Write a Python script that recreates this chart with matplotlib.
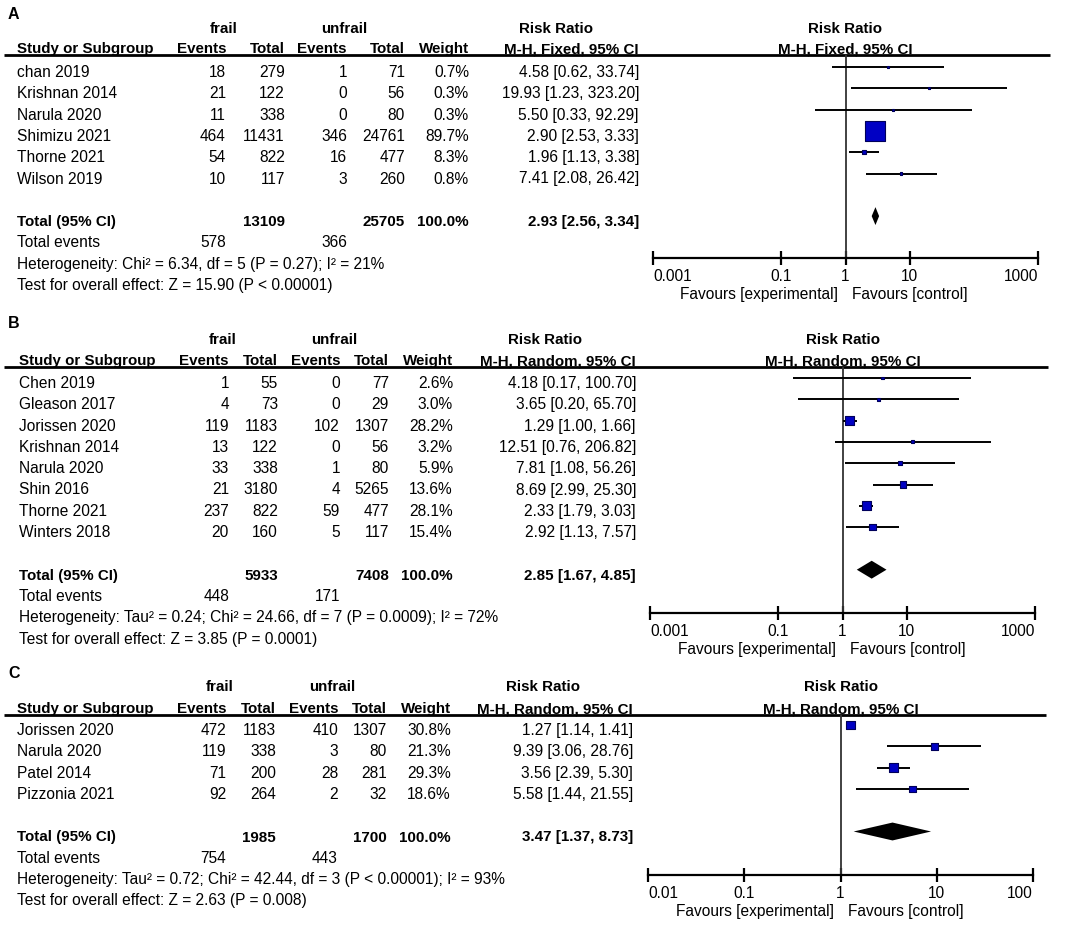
import matplotlib
matplotlib.use("Agg")
import matplotlib.pyplot as plt
import numpy as np

W, H = 1084, 926
plt.rcParams['font.family'] = ['Liberation Sans', 'DejaVu Sans']
plt.rcParams['font.size'] = 11.2
BOLD_SIZE = 10.9

# ---- panel A data ----
A_STUDY = ["chan 2019", "Krishnan 2014", "Narula 2020", "Shimizu 2021", "Thorne 2021", "Wilson 2019"]
A_FRAIL_EV = [18, 21, 11, 464, 54, 10]
A_FRAIL_N = [279, 122, 338, 11431, 822, 117]
A_UNFRAIL_EV = [1, 0, 0, 346, 16, 3]
A_UNFRAIL_N = [71, 56, 80, 24761, 477, 260]
A_WEIGHT = [0.7, 0.3, 0.3, 89.7, 8.3, 0.8]
A_RR = [4.58, 19.93, 5.50, 2.90, 1.96, 7.41]
A_LO = [0.62, 1.23, 0.33, 2.53, 1.13, 2.08]
A_HI = [33.74, 323.20, 92.29, 3.33, 3.38, 26.42]
A_TOTAL_N = [13109, 25705]
A_TOTAL_EV = [578, 366]
A_POOLED = [2.93, 2.56, 3.34]
A_HET = "Heterogeneity: Chi² = 6.34, df = 5 (P = 0.27); I² = 21%"
A_TEST = "Test for overall effect: Z = 15.90 (P < 0.00001)"
A_METHOD = "M-H, Fixed, 95% CI"
A_TICKS = [0.001, 0.1, 1, 10, 1000]
A_TICKLABELS = ["0.001", "0.1", "1", "10", "1000"]

# ---- panel B data ----
B_STUDY = ["Chen 2019", "Gleason 2017", "Jorissen 2020", "Krishnan 2014", "Narula 2020",
           "Shin 2016", "Thorne 2021", "Winters 2018"]
B_FRAIL_EV = [1, 4, 119, 13, 33, 21, 237, 20]
B_FRAIL_N = [55, 73, 1183, 122, 338, 3180, 822, 160]
B_UNFRAIL_EV = [0, 0, 102, 0, 1, 4, 59, 5]
B_UNFRAIL_N = [77, 29, 1307, 56, 80, 5265, 477, 117]
B_WEIGHT = [2.6, 3.0, 28.2, 3.2, 5.9, 13.6, 28.1, 15.4]
B_RR = [4.18, 3.65, 1.29, 12.51, 7.81, 8.69, 2.33, 2.92]
B_LO = [0.17, 0.20, 1.00, 0.76, 1.08, 2.99, 1.79, 1.13]
B_HI = [100.70, 65.70, 1.66, 206.82, 56.26, 25.30, 3.03, 7.57]
B_TOTAL_N = [5933, 7408]
B_TOTAL_EV = [448, 171]
B_POOLED = [2.85, 1.67, 4.85]
B_HET = "Heterogeneity: Tau² = 0.24; Chi² = 24.66, df = 7 (P = 0.0009); I² = 72%"
B_TEST = "Test for overall effect: Z = 3.85 (P = 0.0001)"
B_METHOD = "M-H, Random, 95% CI"
B_TICKS = [0.001, 0.1, 1, 10, 1000]
B_TICKLABELS = ["0.001", "0.1", "1", "10", "1000"]

# ---- panel C data ----
C_STUDY = ["Jorissen 2020", "Narula 2020", "Patel 2014", "Pizzonia 2021"]
C_FRAIL_EV = [472, 119, 71, 92]
C_FRAIL_N = [1183, 338, 200, 264]
C_UNFRAIL_EV = [410, 3, 28, 2]
C_UNFRAIL_N = [1307, 80, 281, 32]
C_WEIGHT = [30.8, 21.3, 29.3, 18.6]
C_RR = [1.27, 9.39, 3.56, 5.58]
C_LO = [1.14, 3.06, 2.39, 1.44]
C_HI = [1.41, 28.76, 5.30, 21.55]
C_TOTAL_N = [1985, 1700]
C_TOTAL_EV = [754, 443]
C_POOLED = [3.47, 1.37, 8.73]
C_HET = "Heterogeneity: Tau² = 0.72; Chi² = 42.44, df = 3 (P < 0.00001); I² = 93%"
C_TEST = "Test for overall effect: Z = 2.63 (P = 0.008)"
C_METHOD = "M-H, Random, 95% CI"
C_TICKS = [0.01, 0.1, 1, 10, 100]
C_TICKLABELS = ["0.01", "0.1", "1", "10", "100"]

# pixel layout of each panel
LAYOUT = {
    "A": dict(label_y=19, y0=67, line_y=55, axis_y=258, line_x1=1050,
              cols=[17, 226, 285, 347, 405, 469, 639], frail_cx=224, unfrail_cx=344, rr_cx=556,
              fx=(653, 1038), box_max=20, box_pow=0.68),
    "B": dict(label_y=328, y0=378, line_y=367, axis_y=613, line_x1=1048,
              cols=[19, 229, 278, 340, 389, 453, 636], frail_cx=223, unfrail_cx=334, rr_cx=545,
              fx=(650, 1035), box_max=9, box_pow=0.5),
    "C": dict(label_y=678, y0=725, line_y=715, axis_y=875, line_x1=1046,
              cols=[17, 226, 276, 338, 387, 451, 633], frail_cx=220, unfrail_cx=332, rr_cx=543,
              fx=(648, 1033), box_max=8.7, box_pow=0.6),
}
ROW = 21.3
BOX_FACE = "#0000c4"
BOX_EDGE = "#00005a"

fig = plt.figure(figsize=(W / 100, H / 100), dpi=100)
bg = fig.add_axes([0, 0, 1, 1])
bg.set_xlim(0, W)
bg.set_ylim(H, 0)
bg.axis("off")


def btext(x, y, s, **kw):
    bg.text(x, y, s, fontweight="bold", fontsize=BOLD_SIZE, va="baseline", **kw)


def draw_panel(name, study, ev1, n1, ev2, n2, weight, rr, lo, hi,
               total_n, total_ev, pooled, het, test, method, ticks, ticklabels):
    p = LAYOUT[name]
    c = p["cols"]
    y0 = p["y0"]
    n = len(study)
    base = lambda i: y0 + ROW * i + 10

    # headers
    bg.text(8, p["label_y"], name, fontweight="bold", fontsize=11.5, va="baseline")
    hy = y0 - 34
    btext(p["frail_cx"], hy, "frail", ha="center")
    btext(p["unfrail_cx"], hy, "unfrail", ha="center")
    btext(p["rr_cx"], hy, "Risk Ratio", ha="center")
    hy2 = p["line_y"] - 2
    btext(c[0], hy2, "Study or Subgroup")
    for x, s in zip(c[1:], ["Events", "Total", "Events", "Total", "Weight", method]):
        btext(x, hy2, s, ha="right")
    bg.plot([4, p["line_x1"]], [p["line_y"]] * 2, color="black", lw=2, solid_capstyle="butt")

    # study rows
    for i in range(n):
        y = base(i)
        bg.text(c[0], y, study[i], va="baseline")
        vals = [ev1[i], n1[i], ev2[i], n2[i], f"{weight[i]:.1f}%",
                f"{rr[i]:.2f} [{lo[i]:.2f}, {hi[i]:.2f}]"]
        for x, v in zip(c[1:], vals):
            bg.text(x, y, str(v), ha="right", va="baseline")

    # totals
    y = base(n + 1)
    btext(c[0], y, "Total (95% CI)")
    btext(c[2], y, str(total_n[0]), ha="right")
    btext(c[4], y, str(total_n[1]), ha="right")
    btext(c[5], y, "100.0%", ha="right")
    btext(c[6], y, f"{pooled[0]:.2f} [{pooled[1]:.2f}, {pooled[2]:.2f}]", ha="right")
    y = base(n + 2)
    bg.text(c[0], y, "Total events", va="baseline")
    bg.text(c[1], y, str(total_ev[0]), ha="right", va="baseline")
    bg.text(c[3], y, str(total_ev[1]), ha="right", va="baseline")
    bg.text(c[0], base(n + 3), het, va="baseline")
    bg.text(c[0], base(n + 4), test, va="baseline")

    # forest plot axes
    fx0, fx1 = p["fx"]
    ax = fig.add_axes([fx0 / W, 1 - p["axis_y"] / H, (fx1 - fx0) / W,
                       (p["axis_y"] - p["line_y"]) / H])
    ax.set_xscale("log")
    ax.set_xlim(ticks[0], ticks[-1])
    ax.set_ylim((p["axis_y"] - y0) / ROW, (p["line_y"] - y0) / ROW)
    ax.patch.set_alpha(0)
    for s in ["left", "right", "top"]:
        ax.spines[s].set_visible(False)
    ax.spines["bottom"].set_linewidth(1.6)
    ax.set_yticks([])
    ax.set_xticks(ticks)
    ax.set_xticklabels(ticklabels)
    ax.minorticks_off()
    ax.tick_params(axis="x", direction="inout", length=10, width=1.6, pad=3, labelsize=11.2)
    labs = ax.get_xticklabels()
    labs[0].set_ha("left")
    labs[-1].set_ha("right")
    ax.axvline(1, color="#333333", lw=1.3)

    rows = np.arange(n)
    ax.hlines(rows, lo, hi, color="black", lw=1.4)
    w = np.asarray(weight)
    side = np.maximum(2.2, p["box_max"] * (w / w.max()) ** p["box_pow"])
    ax.scatter(rr, rows, marker="s", s=(side * 0.72) ** 2, facecolor=BOX_FACE,
               edgecolor=BOX_EDGE, linewidths=0.8, zorder=3)
    dy = 0.42
    ax.fill([pooled[1], pooled[0], pooled[2], pooled[0]],
            [n + 1, n + 1 - dy, n + 1, n + 1 + dy], color="black", lw=0)

    # header + favours labels tied to x = 1
    up = p["line_y"] - hy
    ax.annotate("Risk Ratio", xy=(1, 1), xycoords=("data", "axes fraction"),
                xytext=(0, up), textcoords="offset pixels", ha="center",
                va="baseline", fontweight="bold", fontsize=BOLD_SIZE, annotation_clip=False)
    ax.annotate(method, xy=(1, 1), xycoords=("data", "axes fraction"),
                xytext=(0, 2), textcoords="offset pixels", ha="center",
                va="baseline", fontweight="bold", fontsize=BOLD_SIZE, annotation_clip=False)
    ax.annotate("Favours [experimental]", xy=(1, 0), xycoords=("data", "axes fraction"),
                xytext=(-7, -41), textcoords="offset pixels", ha="right", va="baseline",
                annotation_clip=False)
    ax.annotate("Favours [control]", xy=(1, 0), xycoords=("data", "axes fraction"),
                xytext=(7, -41), textcoords="offset pixels", ha="left", va="baseline",
                annotation_clip=False)


draw_panel("A", A_STUDY, A_FRAIL_EV, A_FRAIL_N, A_UNFRAIL_EV, A_UNFRAIL_N, A_WEIGHT,
           A_RR, A_LO, A_HI, A_TOTAL_N, A_TOTAL_EV, A_POOLED, A_HET, A_TEST, A_METHOD,
           A_TICKS, A_TICKLABELS)
draw_panel("B", B_STUDY, B_FRAIL_EV, B_FRAIL_N, B_UNFRAIL_EV, B_UNFRAIL_N, B_WEIGHT,
           B_RR, B_LO, B_HI, B_TOTAL_N, B_TOTAL_EV, B_POOLED, B_HET, B_TEST, B_METHOD,
           B_TICKS, B_TICKLABELS)
draw_panel("C", C_STUDY, C_FRAIL_EV, C_FRAIL_N, C_UNFRAIL_EV, C_UNFRAIL_N, C_WEIGHT,
           C_RR, C_LO, C_HI, C_TOTAL_N, C_TOTAL_EV, C_POOLED, C_HET, C_TEST, C_METHOD,
           C_TICKS, C_TICKLABELS)

fig.savefig("out.png", dpi=100)
